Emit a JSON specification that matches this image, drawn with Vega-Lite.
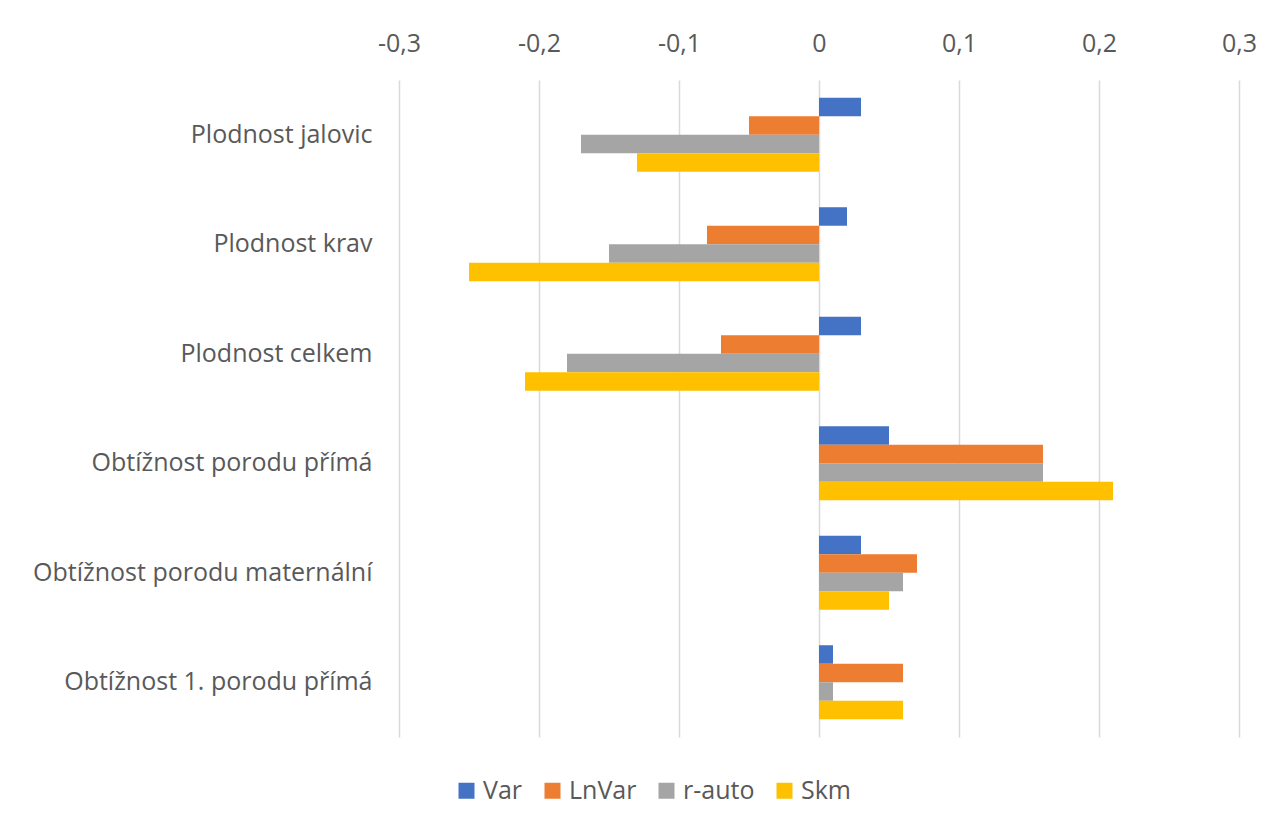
{
  "$schema": "https://vega.github.io/schema/vega-lite/v6.json",
  "autosize": {"type": "none"},
  "width": 840,
  "height": 657,
  "padding": {"left": 399, "top": 80, "right": 34, "bottom": 90},
  "background": "white",
  "data": {
    "values": [
      {"kat": "Plodnost jalovic", "serie": "Var", "hodnota": 0.03},
      {"kat": "Plodnost jalovic", "serie": "LnVar", "hodnota": -0.05},
      {"kat": "Plodnost jalovic", "serie": "r-auto", "hodnota": -0.17},
      {"kat": "Plodnost jalovic", "serie": "Skm", "hodnota": -0.13},
      {"kat": "Plodnost krav", "serie": "Var", "hodnota": 0.02},
      {"kat": "Plodnost krav", "serie": "LnVar", "hodnota": -0.08},
      {"kat": "Plodnost krav", "serie": "r-auto", "hodnota": -0.15},
      {"kat": "Plodnost krav", "serie": "Skm", "hodnota": -0.25},
      {"kat": "Plodnost celkem", "serie": "Var", "hodnota": 0.03},
      {"kat": "Plodnost celkem", "serie": "LnVar", "hodnota": -0.07},
      {"kat": "Plodnost celkem", "serie": "r-auto", "hodnota": -0.18},
      {"kat": "Plodnost celkem", "serie": "Skm", "hodnota": -0.21},
      {"kat": "Obtížnost porodu přímá", "serie": "Var", "hodnota": 0.05},
      {"kat": "Obtížnost porodu přímá", "serie": "LnVar", "hodnota": 0.16},
      {"kat": "Obtížnost porodu přímá", "serie": "r-auto", "hodnota": 0.16},
      {"kat": "Obtížnost porodu přímá", "serie": "Skm", "hodnota": 0.21},
      {"kat": "Obtížnost porodu maternální", "serie": "Var", "hodnota": 0.03},
      {"kat": "Obtížnost porodu maternální", "serie": "LnVar", "hodnota": 0.07},
      {"kat": "Obtížnost porodu maternální", "serie": "r-auto", "hodnota": 0.06},
      {"kat": "Obtížnost porodu maternální", "serie": "Skm", "hodnota": 0.05},
      {"kat": "Obtížnost 1. porodu přímá", "serie": "Var", "hodnota": 0.01},
      {"kat": "Obtížnost 1. porodu přímá", "serie": "LnVar", "hodnota": 0.06},
      {"kat": "Obtížnost 1. porodu přímá", "serie": "r-auto", "hodnota": 0.01},
      {"kat": "Obtížnost 1. porodu přímá", "serie": "Skm", "hodnota": 0.06}
    ]
  },
  "mark": {"type": "bar"},
  "encoding": {
    "y": {
      "field": "kat",
      "type": "nominal",
      "sort": null,
      "title": null,
      "scale": {"paddingInner": 0.324, "paddingOuter": 0.162},
      "axis": {
        "domain": false,
        "ticks": false,
        "grid": false,
        "labelFontSize": 25,
        "labelColor": "#595959",
        "labelFont": "Open Sans",
        "labelPadding": 27,
        "labelLimit": 400
      }
    },
    "yOffset": {
      "field": "serie",
      "type": "nominal",
      "sort": ["Var", "LnVar", "r-auto", "Skm"],
      "scale": {"domain": ["Var", "LnVar", "r-auto", "Skm"], "paddingInner": 0, "paddingOuter": 0}
    },
    "x": {
      "field": "hodnota",
      "type": "quantitative",
      "title": null,
      "scale": {"domain": [-0.3, 0.3], "nice": false},
      "axis": {
        "orient": "top",
        "values": [-0.3, -0.2, -0.1, 0, 0.1, 0.2, 0.3],
        "labelExpr": "replace(replace(format(datum.value, '.1~f'), '.', ','), '\u2212', '-')",
        "labelFlush": false,
        "labelOverlap": false,
        "domain": false,
        "ticks": false,
        "grid": true,
        "gridColor": "#d9d9d9",
        "gridWidth": 1.5,
        "labelFontSize": 25,
        "labelColor": "#595959",
        "labelFont": "Open Sans",
        "labelPadding": 24
      }
    },
    "color": {
      "field": "serie",
      "type": "nominal",
      "sort": ["Var", "LnVar", "r-auto", "Skm"],
      "scale": {
        "domain": ["Var", "LnVar", "r-auto", "Skm"],
        "range": ["#4472C4", "#ED7D31", "#A5A5A5", "#FFC000"]
      },
      "legend": {
        "title": null,
        "orient": "none",
        "direction": "horizontal",
        "legendX": 55,
        "legendY": 698,
        "padding": 0,
        "symbolType": "square",
        "symbolSize": 256,
        "symbolStrokeWidth": 0,
        "labelFontSize": 25,
        "labelColor": "#595959",
        "labelFont": "Open Sans",
        "columnPadding": 17,
        "labelOffset": 4
      }
    }
  },
  "config": {"view": {"stroke": null}}
}
